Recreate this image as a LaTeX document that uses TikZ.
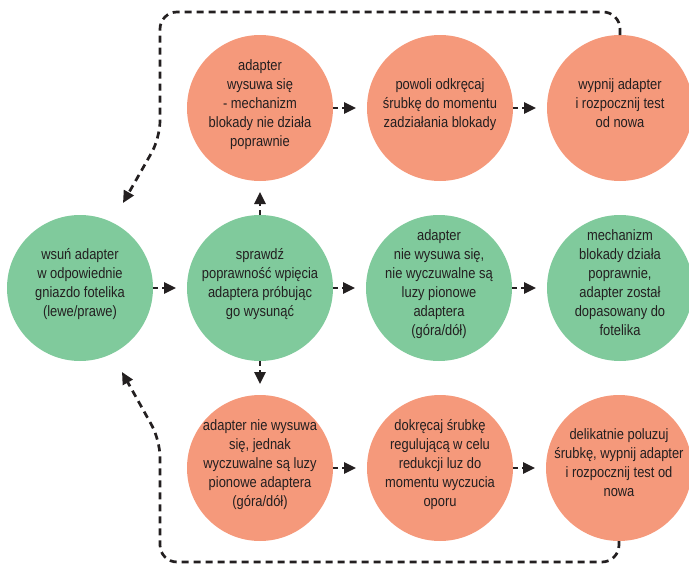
\documentclass[tikz,border=0pt]{standalone}
\usepackage{fontspec}
\setmainfont{Liberation Sans}[FakeStretch=0.86]
\usetikzlibrary{arrows.meta}
\definecolor{salmon}{HTML}{F5997B}
\definecolor{mint}{HTML}{80CA9C}
\definecolor{ink}{HTML}{231F20}
\newcommand{\ctxt}[1]{\smash{\makebox[0pt]{\begin{tabular}{@{}c@{}}#1\end{tabular}}}}
\begin{document}
\begin{tikzpicture}[x=1pt,y=-1pt,
  bub/.style={circle, minimum size=146pt, inner sep=0pt, outer sep=0pt, text=ink,
    font=\fontsize{15}{19}\selectfont},
  warm/.style={bub, fill=salmon},
  cool/.style={bub, fill=mint},
  conn/.style={draw=ink, line width=2.7pt, dash pattern=on 5pt off 4pt,
    -{Triangle[length=12pt,width=11pt]}, shorten >=11pt},
  loopline/.style={draw=ink, line width=2.7pt, dash pattern=on 7pt off 5pt,
    rounded corners=17pt, -{Triangle[length=12pt,width=11pt]}}]
\useasboundingbox (0,0) rectangle (689,565);

% top row
\node[warm] (T1) at (260,108) {\ctxt{adapter\\ wysuwa się\\ - mechanizm\\ blokady nie działa\\ poprawnie}};
\node[warm] (T2) at (440,108) {\ctxt{powoli odkręcaj\\ śrubkę do momentu\\ zadziałania blokady}};
\node[warm] (T3) at (620,108) {\ctxt{wypnij adapter\\ i rozpocznij test\\ od nowa}};
% middle row
\node[cool] (A) at (80,288) {\ctxt{wsuń adapter\\ w odpowiednie\\ gniazdo fotelika\\ (lewe/prawe)}};
\node[cool] (B) at (260,288) {\ctxt{sprawdź\\ poprawność wpięcia\\ adaptera próbując\\ go wysunąć}};
\node[cool] (C) at (439,288) {\ctxt{adapter\\ nie wysuwa się,\\ nie wyczuwalne są\\ luzy pionowe\\ adaptera\\ (góra/dół)}};
\node[cool] (D) at (620,288) {\ctxt{mechanizm\\ blokady działa\\ poprawnie,\\ adapter został\\ dopasowany do\\ fotelika}};
% bottom row
\node[warm] (B1) at (260,468) {\ctxt{adapter nie wysuwa\\ się, jednak\\ wyczuwalne są luzy\\ pionowe adaptera\\ (góra/dół)}};
\node[warm] (B2) at (440,468) {\ctxt{dokręcaj śrubkę\\ regulującą w celu\\ redukcji luz do\\ momentu wyczucia\\ oporu}};
\node[warm] (B3) at (619,468) {\ctxt{delikatnie poluzuj\\ śrubkę, wypnij adapter\\ i rozpocznij test od\\ nowa}};

% straight connectors
\draw[conn] (T1) -- (T2);
\draw[conn] (T2) -- (T3);
\draw[conn] (A) -- (B);
\draw[conn] (B) -- (C);
\draw[conn] (C) -- (D);
\draw[conn] (B1) -- (B2);
\draw[conn] (B2) -- (B3);
\draw[conn] (B) -- (T1);
\draw[conn] (B) -- (B1);

% loops back to start
\coordinate (tr) at (620,12);
\coordinate (tl) at (160,12);
\coordinate (tm) at (160,138);
\coordinate (lt) at (123,203);
\coordinate (br) at (619,562);
\coordinate (bl) at (160,562);
\coordinate (bm) at (160,440);
\coordinate (lb) at (122,372);
\draw[loopline] (T3.north) -- (tr) -- (tl) -- (tm) -- (lt);
\draw[loopline] (B3.south) -- (br) -- (bl) -- (bm) -- (lb);
\end{tikzpicture}
\end{document}
